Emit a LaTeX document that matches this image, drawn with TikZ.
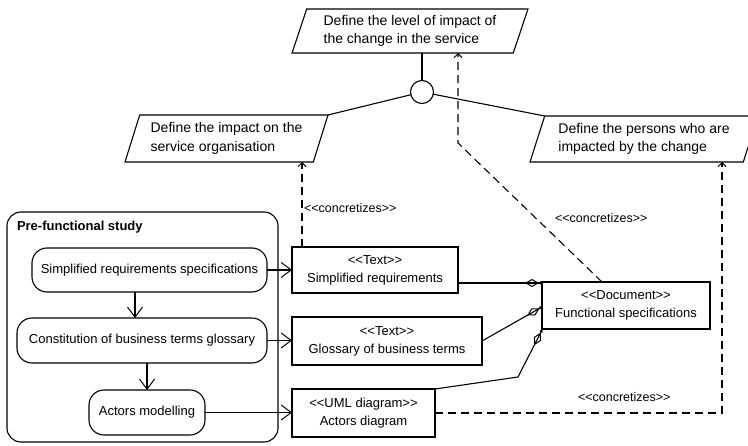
\documentclass[tikz,border=0pt]{standalone}
\usepackage{fontspec}
\setmainfont{Liberation Sans}
\usetikzlibrary{arrows.meta,shapes.geometric,calc}

% stereotype brackets, kept apart so they do not turn into guillemets
\newcommand\stereo[1]{<{}<#1>{}>}

\begin{document}
\begin{tikzpicture}[x=1pt,y=-1pt,line width=1.1pt,
  every node/.style={inner sep=0pt,outer sep=0pt},
  para/.style={draw,trapezium,trapezium left angle=65,trapezium right angle=115,
    trapezium stretches body,align=left,font=\fontsize{14}{18.5}\selectfont},
  container/.style={draw,rounded corners=14pt},
  act/.style={draw,rounded corners=15pt,align=center,font=\fontsize{13}{18}\selectfont},
  artefact/.style={draw,rectangle,align=center,font=\fontsize{13}{18}\selectfont},
  lbl/.style={font=\fontsize{12.5}{15}\selectfont},
  title/.style={font=\fontsize{13}{15}\selectfont\bfseries},
  junc/.style={draw,circle,minimum size=23pt,fill=white},
  flow/.style={-{Straight Barb[length=10pt,width=15pt,line width=1pt]}},
  concr/.style={dash pattern=on 8pt off 5pt,-{Straight Barb[length=4pt,width=8pt,line width=1pt]}},
  aggr/.style={-{Diamond[open,length=14pt,width=8pt,line width=1pt] Circle[length=3pt]}}
]
\useasboundingbox[fill=white] (0,0) rectangle (748,446);

% goals
\node[para,minimum width=236pt,minimum height=44pt] (goal) at (410,31)
  {Define the level of impact of\\the change in the service};
\node[para,minimum width=203pt,minimum height=47pt] (impactorg) at (226.5,138.5)
  {Define the impact on the\\service organisation};
\node[para,minimum width=228pt,minimum height=46pt] (persons) at (644,139)
  {Define the persons who are\\impacted by the change};
\node[junc] (junction) at (422,92) {};

\draw (goal.south -| junction.north) -- (junction.north);
\draw (junction) -- (impactorg.top right corner);
\draw (junction) -- (persons.top left corner);

% pre-functional study
\node[container,minimum width=271pt,minimum height=230pt] (study) at (142.5,327) {};
\node[title,anchor=base west] (studytitle) at (17,231) {Pre-functional study};
\node[act,minimum width=235pt,minimum height=44pt] (a1) at (149.5,270)
  {Simplified requirements specifications};
\node[act,minimum width=250pt,minimum height=45pt] (a2) at (142,340.5)
  {Constitution of business terms glossary};
\node[act,minimum width=116pt,minimum height=45pt] (a3) at (147,412.5)
  {Actors modelling};

% artefacts
\node[artefact,minimum width=166pt,minimum height=46pt] (b1) at (375,270)
  {\stereo{Text}\\Simplified requirements};
\node[artefact,minimum width=190pt,minimum height=48pt] (b2) at (387,341)
  {\stereo{Text}\\Glossary of business terms};
\node[artefact,minimum width=143pt,minimum height=48pt] (b3) at (363.5,413)
  {\stereo{UML diagram}\\Actors diagram};
\node[artefact,minimum width=168pt,minimum height=47pt] (spec) at (626,305.5)
  {\stereo{Document}\\Functional specifications};

% control flow and production
\draw[flow] ([xshift=-14.5pt]a1.south) -- ([xshift=-14.5pt]a1.south |- a2.north);
\draw[flow] (a2.south -| a3.north) -- (a3.north);
\draw[flow] (a1.east) -- (a1.east -| b1.west);
\draw[flow] (a2.east) -- (a2.east -| b2.west);
\draw[flow] (a3.east) -- (a3.east -| b3.west);

% aggregation into the functional specifications
\coordinate (s1) at ($(spec.north west)+(0,1)$);
\coordinate (s2) at ($(spec.west)+(0,1.5)$);
\coordinate (s3) at ($(spec.south west)+(0,1)$);
\coordinate (kink) at (518,377);
\draw[aggr] (b1.east |- s1) -- (s1);
\draw[aggr] (b2.east) -- (s2);
\draw[aggr] (b3.north east) -- (kink) -- (s3);

% concretizes dependencies
\draw[concr] ([xshift=10pt]b1.north west) -- ([xshift=10pt]b1.north west |- impactorg.south);
\node[lbl,anchor=west] (l1) at (304,208) {\stereo{concretizes}};

\coordinate (bend) at (458,143);
\draw[concr] ([xshift=-24pt]spec.north) -- (bend) -- (bend |- goal.south);
\node[lbl,anchor=west] (l2) at (555,218) {\stereo{concretizes}};

\coordinate (rc) at (722,300);
\draw[concr] (b3.east) -- (b3.east -| rc) -- (rc |- persons.south);
\node[lbl,anchor=west] (l3) at (578,397) {\stereo{concretizes}};
\end{tikzpicture}
\end{document}
